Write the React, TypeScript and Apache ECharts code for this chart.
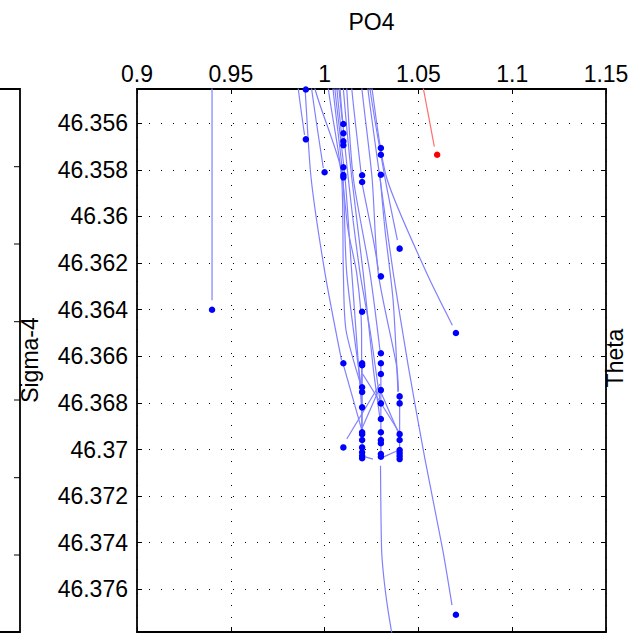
import React, { useEffect, useRef } from "react";
import * as echarts from "echarts";

// ---- axes ----
const xMin = 0.9;
const xMax = 1.15;
const xInterval = 0.05;
const yMin = 46.35453;
const yMax = 46.37783;
const yTickValues = [46.356, 46.358, 46.36, 46.362, 46.364, 46.366, 46.368, 46.37, 46.372, 46.374, 46.376];

// ---- trajectories (PO4, Sigma-4) ----
const track094 = [[0.94, 46.3533], [0.94, 46.3636]];
const trackRed = [[1.0498, 46.3533], [1.0585, 46.357]];
const trackA = [[1.0241, 46.3533], [1.0253, 46.35453], [1.0331, 46.35835], [1.0544, 46.36243], [1.0681, 46.36467]];
const trackB = [[1.023, 46.3533], [1.0242, 46.35453], [1.0322, 46.35835], [1.0388, 46.36101]];
const trackC = [[1.022, 46.3533], [1.0231, 46.35453], [1.0295, 46.35835], [1.0366, 46.36243], [1.0446, 46.36642], [1.0535, 46.37041], [1.063, 46.37432], [1.0679, 46.37668]];
const trackD = [[1.0365, 46.3782], [1.0338, 46.37689], [1.0317, 46.3756], [1.0304, 46.37432], [1.0298, 46.3707]];
const trackE = [[0.9848, 46.3533], [0.986, 46.35453], [0.9893, 46.3565]];
const trackF = [[0.9885, 46.3533], [0.9896, 46.35453], [0.9928, 46.35835], [1.0002, 46.36243], [1.009, 46.36616]];
const trackG = [[0.9917, 46.3533], [0.9931, 46.35453], [0.9993, 46.35792]];
const trackH = [[0.9938, 46.3533], [0.9949, 46.35453], [1.0082, 46.35779], [1.0125, 46.36058], [1.0171, 46.36243], [1.0197, 46.36487], [1.0198, 46.36916]];
const trackI = [[1.0013, 46.3533], [1.002, 46.35453], [1.0091, 46.35835], [1.01, 46.36243], [1.0114, 46.36487], [1.0197, 46.36733]];
const trackJ = [[1.0039, 46.3533], [1.0045, 46.35453], [1.0098, 46.35835], [1.0118, 46.36243], [1.0199, 46.36753]];
const trackK = [[1.005, 46.3533], [1.0055, 46.35453], [1.0109, 46.35835], [1.0145, 46.36243], [1.0197, 46.36819]];
const trackL = [[1.0061, 46.3533], [1.0066, 46.35453], [1.0094, 46.35672]];
const trackM = [[1.0071, 46.3533], [1.0077, 46.35453], [1.0094, 46.35586]];
const trackN = [[1.0077, 46.3533], [1.0082, 46.35453], [1.0126, 46.35835], [1.0189, 46.36243], [1.0242, 46.36487], [1.0295, 46.36788]];
const trackO = [[1.0093, 46.3533], [1.01, 46.35453], [1.0145, 46.35835], [1.0206, 46.36243], [1.0258, 46.36642], [1.0295, 46.36865]];
const trackP = [[1.0111, 46.3533], [1.0118, 46.35453], [1.0153, 46.35835], [1.0242, 46.36243], [1.0295, 46.36573]];
const trackQ = [[1.0138, 46.3533], [1.0145, 46.35453], [1.0194, 46.35809]];
const trackR = [[1.0198, 46.35852], [1.026, 46.36101], [1.0287, 46.3623]];
const trackS = [[1.0295, 46.35821], [1.0322, 46.36058], [1.0365, 46.36358], [1.0391, 46.36753]];
const trackT = [[1.0098, 46.3663], [1.0198, 46.36916]];
const trackU = [[1.0295, 46.36719], [1.0118, 46.36955]];
const trackV = [[1.0203, 46.36676], [1.0397, 46.36926]];
const trackW = [[1.0295, 46.36745], [1.0397, 46.36934]];
const trackX = [[1.0198, 46.36912], [1.0295, 46.36733]];
const trackY = [[1.0198, 46.37027], [1.0258, 46.37041]];
const trackZ = [[1.0397, 46.37002], [1.03, 46.37037]];
const track102 = [[1.02, 46.3663], [1.02, 46.37037]];
const track103 = [[1.03, 46.3663], [1.03, 46.37031]];
const track104 = [[1.04, 46.36772], [1.04, 46.37041]];
const trackAA = [[1.0189, 46.3533], [1.0199, 46.35453], [1.0253, 46.35835], [1.0286, 46.36243], [1.0384, 46.36642], [1.0394, 46.3675]];

const blueTracks = [
  track094, trackA, trackB, trackC, trackD, trackE, trackF, trackG, trackH, trackI, trackJ,
  trackK, trackL, trackM, trackN, trackO, trackP, trackQ, trackR, trackS, trackT, trackU,
  trackV, trackW, trackX, trackY, trackZ, track102, track103, track104, trackAA,
];

// ---- end points (dots) ----
const dotsOther = [[0.94, 46.364], [0.99, 46.35455], [0.99, 46.35669], [1.0, 46.3581], [1.07, 46.365], [1.07, 46.37709]];
const dots101 = [46.35603, 46.35643, 46.35677, 46.35694, 46.35789, 46.35822, 46.35832, 46.3663, 46.36991];
const dots102 = [46.35823, 46.35852, 46.36409, 46.3663, 46.36638, 46.36733, 46.36753, 46.36819, 46.36926, 46.36934, 46.36959, 46.36991, 46.37012, 46.37027, 46.37037];
const dots103 = [46.35706, 46.35735, 46.35821, 46.36257, 46.36587, 46.3663, 46.36676, 46.36745, 46.36802, 46.36869, 46.36926, 46.36959, 46.36973, 46.37019, 46.37031];
const dots104 = [46.36138, 46.36772, 46.36802, 46.36934, 46.36959, 46.37002, 46.37015, 46.37028, 46.37041];
const redDots = [[1.06, 46.35735]];

const FONT = "'Liberation Sans', Arial, Helvetica, sans-serif";

export default function App() {
  const ref = useRef<HTMLDivElement>(null);
  useEffect(() => {
    if (!ref.current) return;
    const chart = echarts.init(ref.current, null, { renderer: "svg" });
    const blueDots = [
      ...dotsOther,
      ...dots101.map((y) => [1.01, y]),
      ...dots102.map((y) => [1.02, y]),
      ...dots103.map((y) => [1.03, y]),
      ...dots104.map((y) => [1.04, y]),
    ];
    const axisLine = { show: true, lineStyle: { color: "#000", width: 1.8 } };
    const tick = { show: true, inside: true, length: 5, lineStyle: { color: "#000", width: 1 } };
    const grid = { show: true, lineStyle: { color: "#000", width: 1, type: [1, 11] as any } };
    const xFmt = (v: number) => String(parseFloat(v.toFixed(2)));
    const yFmt = (v: number) => String(parseFloat(v.toFixed(3)));

    const series: any[] = blueTracks.map((t) => ({
      type: "line",
      data: t,
      xAxisIndex: 0,
      yAxisIndex: 0,
      showSymbol: false,
      smooth: 0.25,
      lineStyle: { color: "#8080ff", width: 1.2 },
      silent: true,
      z: 2,
    }));
    series.push({
      type: "line",
      data: trackRed,
      xAxisIndex: 0,
      yAxisIndex: 0,
      showSymbol: false,
      lineStyle: { color: "#ff7070", width: 1.2 },
      silent: true,
      z: 2,
    });
    series.push({
      type: "scatter",
      data: blueDots,
      xAxisIndex: 0,
      yAxisIndex: 0,
      symbolSize: 6.5,
      itemStyle: { color: "#0000ff", opacity: 1 },
      z: 3,
    });
    series.push({
      type: "scatter",
      data: redDots,
      xAxisIndex: 0,
      yAxisIndex: 0,
      symbolSize: 6.5,
      itemStyle: { color: "#ff0000", opacity: 1 },
      z: 3,
    });

    const leftTicks = [166.7, 244, 321.7, 400, 477.7, 555];

    chart.setOption({
      animation: false,
      backgroundColor: "#fff",
      grid: { left: 137, top: 89, width: 469, height: 543, containLabel: false },
      xAxis: [
        {
          type: "value",
          position: "top",
          min: xMin,
          max: xMax,
          interval: xInterval,
          name: "PO4",
          nameLocation: "middle",
          nameGap: 56,
          nameTextStyle: { fontSize: 23, fontFamily: FONT, color: "#000" },
          axisLine,
          axisTick: tick,
          axisLabel: { fontSize: 23, fontFamily: FONT, color: "#000", margin: 4, formatter: xFmt },
          splitLine: grid,
        },
        {
          type: "value",
          position: "bottom",
          min: xMin,
          max: xMax,
          interval: xInterval,
          axisLine,
          axisTick: tick,
          axisLabel: { show: false },
          splitLine: { show: false },
        },
      ],
      yAxis: [
        {
          type: "value",
          position: "left",
          inverse: true,
          min: yMin,
          max: yMax,
          axisLine,
          axisTick: { ...tick, customValues: yTickValues },
          axisLabel: { fontSize: 23, fontFamily: FONT, color: "#000", margin: 9, formatter: yFmt, customValues: yTickValues },
          splitLine: grid,
        },
        {
          type: "value",
          position: "right",
          inverse: true,
          min: yMin,
          max: yMax,
          axisLine,
          axisTick: { ...tick, customValues: yTickValues },
          axisLabel: { show: false },
          splitLine: { show: false },
        },
      ],
      graphic: [
        {
          type: "polyline",
          silent: true,
          shape: { points: [[-2, 89], [20, 89], [20, 632], [-2, 632]] },
          style: { stroke: "#000", lineWidth: 1.8, fill: "none" },
        },
        ...leftTicks.map((y) => ({
          type: "line",
          silent: true,
          shape: { x1: 14, y1: y, x2: 20, y2: y },
          style: { stroke: "#000", lineWidth: 1 },
        })),
        {
          type: "text",
          x: 30,
          y: 360,
          rotation: Math.PI / 2,
          silent: true,
          style: { text: "Sigma-4", fontSize: 23, fontFamily: FONT, fill: "#000", align: "center", verticalAlign: "middle" },
        },
        {
          type: "text",
          x: 615,
          y: 358,
          rotation: Math.PI / 2,
          silent: true,
          style: { text: "Theta", fontSize: 23, fontFamily: FONT, fill: "#000", align: "center", verticalAlign: "middle" },
        },
      ],
      series,
    });
    return () => chart.dispose();
  }, []);
  return <div ref={ref} style={{ position: "fixed", left: 0, top: 0, width: 633, height: 640 }} />;
}
